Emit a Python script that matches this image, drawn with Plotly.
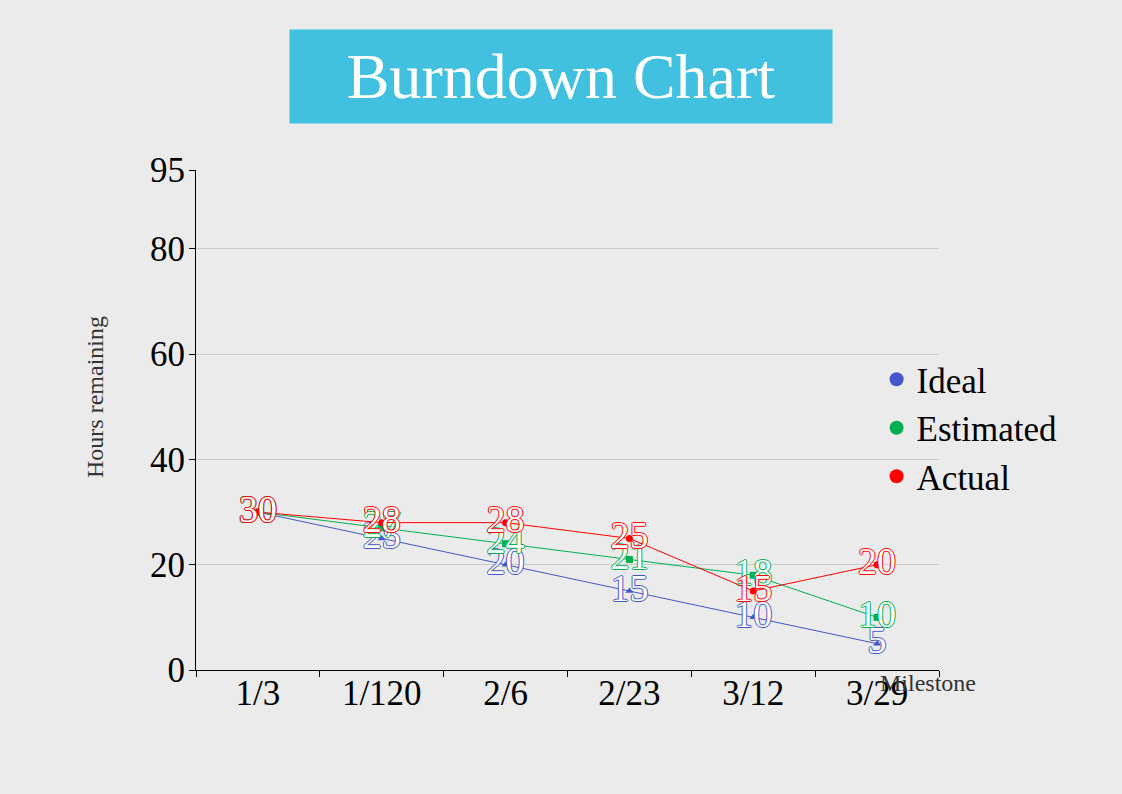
import plotly.graph_objects as go

milestones = ["1/3", "1/120", "2/6", "2/23", "3/12", "3/29"]
ideal = [30, 25, 20, 15, 10, 5]
estimated = [30, 27, 24, 21, 18, 10]
actual = [30, 28, 28, 25, 15, 20]
y_ticks = [0, 20, 40, 60, 80, 95]

series = [
    ("Ideal", ideal, "#4356CC", "triangle-up"),
    ("Estimated", estimated, "#00B050", "square"),
    ("Actual", actual, "#FF0000", "circle"),
]

FONT = "Liberation Serif, Times New Roman, serif"

fig = go.Figure()
for name, vals, color, sym in series:
    outline = ", ".join(f"{dx}px {dy}px 0 {color}" for dx, dy in
                        [(1, 0), (-1, 0), (0, 1), (0, -1)])
    fig.add_trace(go.Scatter(
        x=milestones, y=vals, name=name, mode="lines+markers+text",
        line=dict(color=color, width=1),
        marker=dict(color=color, size=7, symbol=sym),
        text=[str(v) for v in vals], textposition="middle center",
        textfont=dict(family=FONT, size=38, color="white", shadow=outline),
        showlegend=False, cliponaxis=False,
    ))
for name, vals, color, sym in series:
    fig.add_trace(go.Scatter(
        x=[None], y=[None], name=name, mode="markers",
        marker=dict(color=color, size=14, symbol="circle"),
        showlegend=True,
    ))

fig.update_layout(
    width=1122, height=794,
    paper_bgcolor="#EBEBEB", plot_bgcolor="#EBEBEB",
    margin=dict(l=196, r=183, t=170, b=124),
    font=dict(family=FONT, color="black"),
    showlegend=True,
    legend=dict(x=0.916, xanchor="left", y=0.484, yanchor="middle",
                bgcolor="rgba(0,0,0,0)", font=dict(size=35, family=FONT, color="black"),
                itemsizing="trace", tracegroupgap=0),
    annotations=[
        dict(text="Burndown Chart", xref="paper", yref="paper", x=0.5, y=1,
             xanchor="center", yanchor="bottom", yshift=46, xshift=-7, showarrow=False,
             font=dict(family=FONT, size=64, color="white"),
             bgcolor="#41C1DF", width=542, height=93, borderpad=0, valign="middle"),
        dict(text="Milestone", xref="paper", yref="paper", x=1, y=0,
             xanchor="center", yanchor="middle", xshift=-11, yshift=-13, showarrow=False,
             font=dict(family=FONT, size=24, color="#333333")),
        dict(text="Hours remaining", xref="paper", yref="paper", x=0, y=0.546,
             xanchor="center", yanchor="middle", xshift=-101, textangle=-90, showarrow=False,
             font=dict(family=FONT, size=24, color="#333333")),
    ],
)
fig.update_xaxes(
    type="category", range=[-0.5, 5.5], tickson="boundaries",
    showline=True, linecolor="black", linewidth=1,
    ticks="outside", ticklen=6, tickcolor="black", ticklabelstandoff=-8,
    showgrid=False, tickfont=dict(size=35, family=FONT, color="black"),
)
fig.update_yaxes(
    range=[0, 95], tickvals=y_ticks, showline=True, linecolor="black", linewidth=1,
    ticks="outside", ticklen=6, tickcolor="black", ticklabelstandoff=-3,
    showgrid=True, gridcolor="#CCCCCC", gridwidth=1, zeroline=False,
    tickfont=dict(size=35, family=FONT, color="black"),
)
fig.write_html("out.html")
